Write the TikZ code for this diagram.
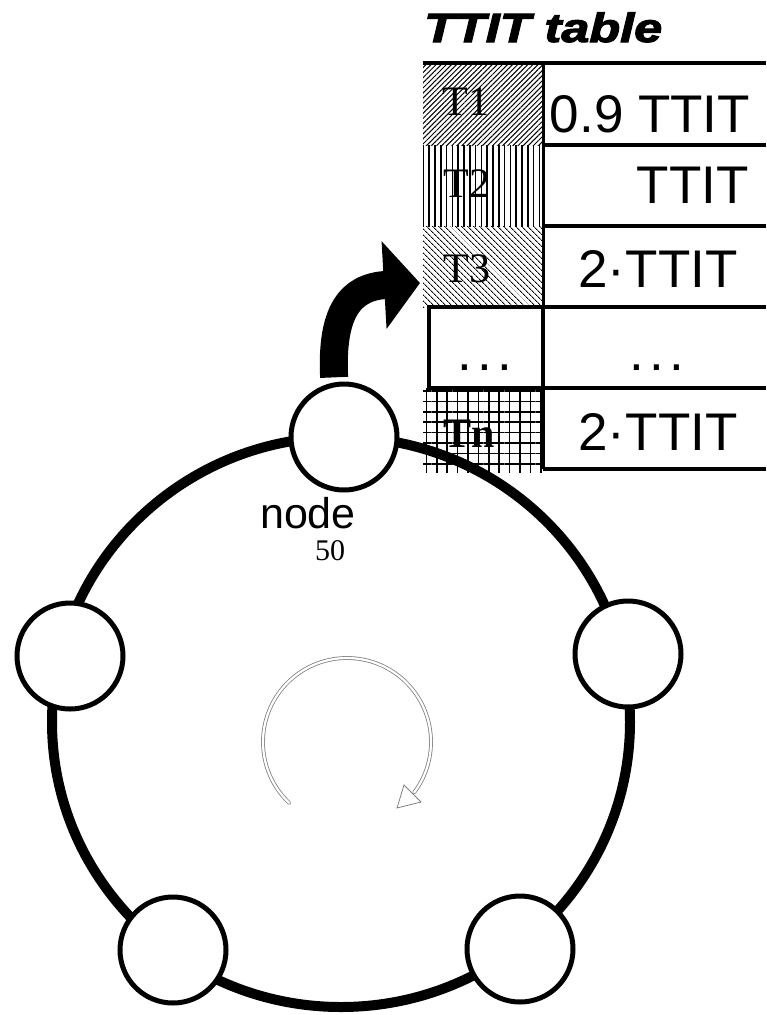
\documentclass[tikz,border=0pt]{standalone}
\usepackage{fontspec}
\setmainfont{Liberation Serif}
\newfontfamily\arialf{Liberation Sans}
\newfontfamily\titlef{Liberation Sans}[BoldItalicFeatures={FakeBold=2.5}]
\usepackage{graphicx}
\usetikzlibrary{patterns.meta,arrows.meta,calc}
\begin{document}
\begin{tikzpicture}[x=1pt,y=-1pt,
  ringnode/.style={circle, draw=black, fill=white, line width=5pt, minimum size=106pt, inner sep=0pt},
  lcell/.style={rectangle, inner sep=0pt, outer sep=0pt, minimum width=120pt, minimum height=81pt},
  rcell/.style={rectangle, inner sep=0pt, outer sep=0pt, minimum width=223pt, minimum height=81pt},
  tabline/.style={line width=3.5pt},
  sanstext/.style={font=\arialf\fontsize{53}{60}\selectfont, inner sep=0pt, anchor=base},
  seriftext/.style={font=\fontsize{42}{48}\selectfont, inner sep=0pt, anchor=base},
  turnline/.style={draw=gray, line width=0.8pt},
]
\useasboundingbox (0,0) rectangle (766,1015);

% ring
\draw[line width=10pt] (341,722) ellipse [x radius=289, y radius=285];

% ring nodes
\node[ringnode] (n50) at (344,437) {};
\node[ringnode] (nl)  at (70,656) {};
\node[ringnode] (nr)  at (628,654) {};
\node[ringnode] (nbl) at (173,950) {};
\node[ringnode] (nbr) at (520,949) {};

% label of the top node
\node[font=\arialf\fontsize{43}{50}\selectfont, inner sep=0pt, anchor=base] (lblnode) at (308,528) {node};
\node[font=\fontsize{30}{36}\selectfont, inner sep=0pt, anchor=base] (lbl50) at (330,560) {50};

% title
\node[font=\titlef\bfseries\itshape\fontsize{41}{48}\selectfont, inner sep=0pt, anchor=base west] (title) at (424,42) {\resizebox{238pt}{29.5pt}{TTIT table}};

% table, left column
\node[lcell, minimum height=82pt, pattern={Lines[angle=45,distance=3.6pt,line width=1pt]}] (c1l) at (483,104) {};
\node[lcell, pattern={Lines[angle=90,distance=5.8pt,line width=1.6pt]}] (c2l) at (483,185.5) {};
\node[lcell, pattern={Lines[angle=-45,distance=4pt,line width=1pt]}] (c3l) at (483,266.5) {};
\node[lcell, draw, line width=3.5pt, minimum width=114pt] (c4l) at (486,347.5) {};
\node[lcell, minimum height=84pt, pattern={Lines[angle=0,distance=10.4pt,line width=1.6pt]},
      preaction={pattern={Lines[angle=90,distance=10.4pt,line width=1.6pt]}}] (c5l) at (483,430) {};

% table, right column
\node[rcell, minimum height=82pt] (c1r) at (654.5,104) {};
\node[rcell] (c2r) at (654.5,185.5) {};
\node[rcell] (c3r) at (654.5,266.5) {};
\node[rcell] (c4r) at (654.5,347.5) {};
\node[rcell] (c5r) at (654.5,428.5) {};

% table lines
\draw[line width=4pt] (c1l.north west) -- (c1r.north east);
\foreach \c in {c1r,c2r,c3r,c4r} \draw[tabline] (\c.south west) -- (\c.south east);
\draw[line width=4pt] (c5r.south west) -- (c5r.south east);
\draw[line width=3pt] (c1r.north west) -- (c5r.south west);

% cell texts
\node[seriftext] (t1) at (466,115) {T1};
\node[seriftext] (t2) at (467,197) {T2};
\node[seriftext] (t3) at (467,282) {T3};
\node[sanstext] (t4) at (485,370) {.\kern5pt.\kern5pt.};
\node[seriftext, font=\bfseries\fontsize{42}{48}\selectfont] (tn) at (469,447) {Tn};

\node[sanstext] (v1) at (650,132) {0.9 TTIT};
\node[sanstext, anchor=base east] (v2) at (749,203) {TTIT};
\node[sanstext] (v3) at (658,287) {2·TTIT};
\node[sanstext] (v4) at (657,370) {.\kern5pt.\kern5pt.};
\node[sanstext] (v5) at (658,450) {2·TTIT};

% big arrow from node 50 to the table
\coordinate (arrtip) at ($(c3l.west)+(-3,16.5)$);
\draw[line width=28pt, shorten <=5pt, -{Triangle[length=36pt,width=86pt]}]
  (n50.100) .. controls (331,312) and (350,287) .. (arrtip);

% circulation arrow in the middle
\draw[turnline, double=white, double distance=2.2pt, line cap=round]
  (347,742) ++(133.5:84) arc[start angle=133.5, end angle=397, radius=84];
\draw[turnline, fill=white, line join=miter] (397,808) -- (404,785) -- (421,802) -- cycle;
\end{tikzpicture}
\end{document}
